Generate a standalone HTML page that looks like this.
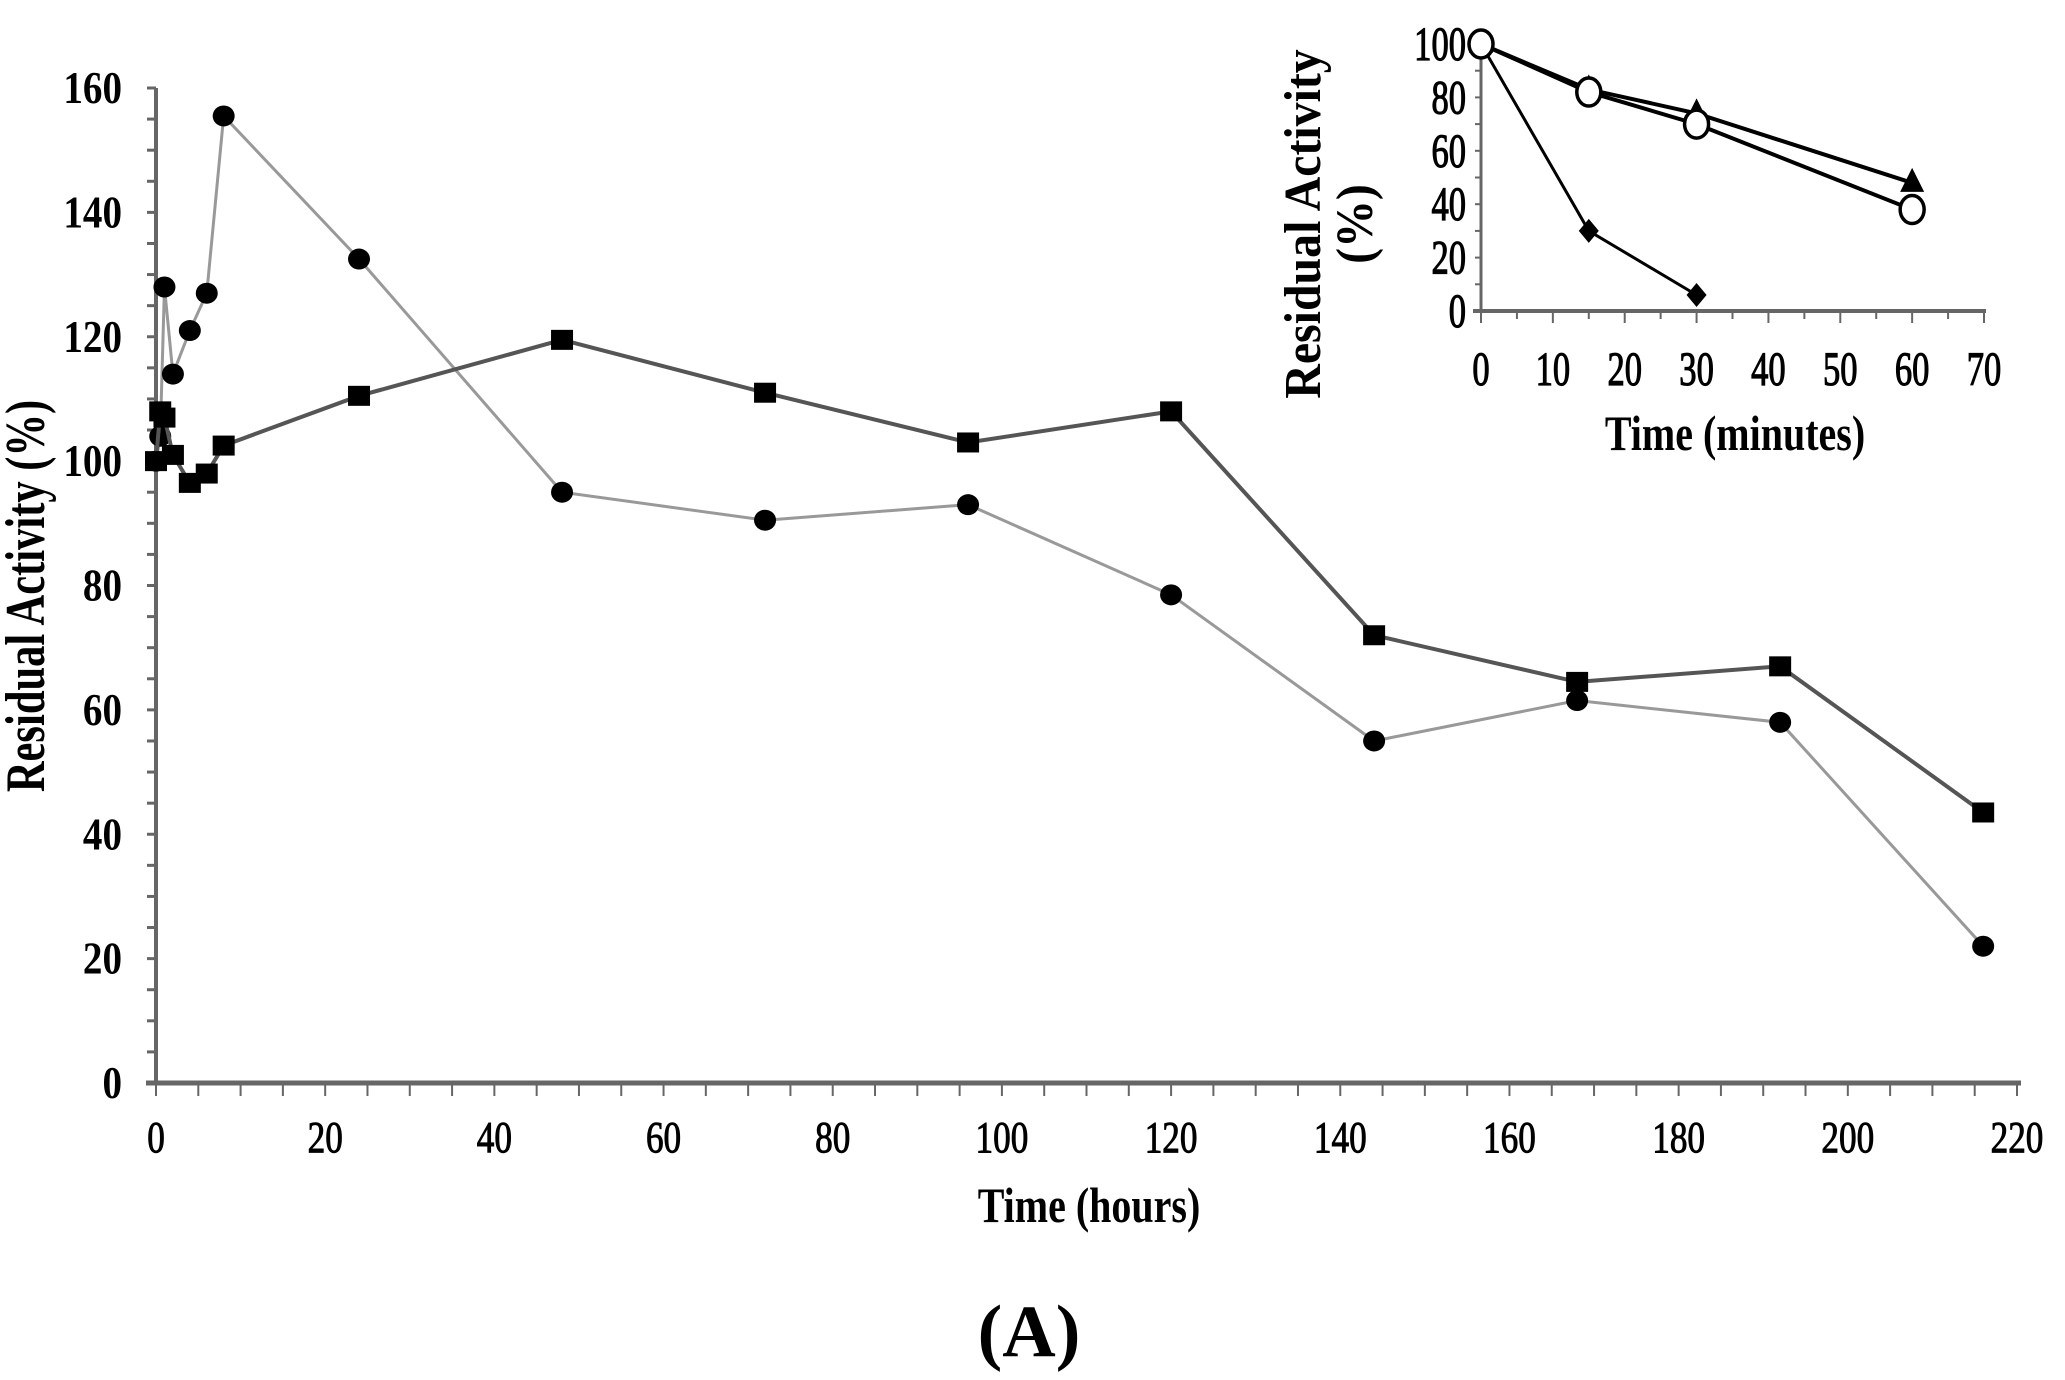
<!DOCTYPE html>
<html><head><meta charset="utf-8"><style>
html,body{margin:0;padding:0;background:#fff;}
svg{display:block;}
text{font-family:"Liberation Serif",serif;fill:#000;}
</style></head><body>
<svg id="chart" width="2065" height="1380" viewBox="0 0 2065 1380" xmlns="http://www.w3.org/2000/svg"></svg>
<script>
// main chart data
const hoursCircle = [0, 0.5, 1, 2, 4, 6, 8, 24, 48, 72, 96, 120, 144, 168, 192, 216];
const activityCircle = [100, 104, 128, 114, 121, 127, 155.5, 132.5, 95, 90.5, 93, 78.5, 55, 61.5, 58, 22];
const hoursSquare = [0, 0.5, 1, 2, 4, 6, 8, 24, 48, 72, 96, 120, 144, 168, 192, 216];
const activitySquare = [100, 108, 107, 101, 96.5, 98, 102.5, 110.5, 119.5, 111, 103, 108, 72, 64.5, 67, 43.5];
const xTicks = [0, 20, 40, 60, 80, 100, 120, 140, 160, 180, 200, 220];
const yTicks = [0, 20, 40, 60, 80, 100, 120, 140, 160];
// inset data
const minTriangle = [0, 15, 30, 60];
const actTriangle = [100, 83, 74, 48];
const minOpen = [0, 15, 30, 60];
const actOpen = [100, 82, 70, 38];
const minDiamond = [0, 15, 30];
const actDiamond = [100, 30, 6];
const insetXTicks = [0, 10, 20, 30, 40, 50, 60, 70];
const insetYTicks = [0, 20, 40, 60, 80, 100];

const svg = document.getElementById('chart');
const NS = 'http://www.w3.org/2000/svg';
function mk(tag, attrs, parent) {
  const e = document.createElementNS(NS, tag);
  for (const k in attrs) e.setAttribute(k, attrs[k]);
  (parent || svg).appendChild(e);
  return e;
}
function txt(str, x, y, size, anchor, sx, bold, parent, rot, stroke) {
  const g = mk('g', {transform: 'translate(' + x + ',' + y + ')' + (rot ? ' rotate(' + rot + ')' : '') + ' scale(' + sx + ',1)'}, parent);
  const t = mk('text', {x: 0, y: 0, 'font-size': size, 'text-anchor': anchor, 'font-weight': bold ? 'bold' : 'normal'}, g);
  if (stroke) { t.setAttribute('stroke', '#000'); t.setAttribute('stroke-width', stroke); }
  t.textContent = str;
  return g;
}

// main axes functions
const X0 = 156, X1 = 2017, Y0 = 1083, Y1 = 88;
const xs = v => X0 + (v / 220) * (X1 - X0);
const ys = v => Y0 - (v / 160) * (Y0 - Y1);

const axes = mk('g', {});


mk('line', {x1: X0, y1: Y1, x2: X0, y2: Y0, stroke: '#666', 'stroke-width': 4}, axes);
mk('line', {x1: X0 - 10, y1: Y0, x2: X1 + 4, y2: Y0, stroke: '#666', 'stroke-width': 5}, axes);
for (let v = 0; v <= 160; v += 5) mk('line', {x1: X0 - 9, y1: ys(v), x2: X0, y2: ys(v), stroke: '#666', 'stroke-width': 3}, axes);
for (let v = 0; v <= 220; v += 5) mk('line', {x1: xs(v), y1: Y0, x2: xs(v), y2: Y0 + 13, stroke: '#666', 'stroke-width': 2}, axes);
yTicks.forEach(v => {
  const g = txt(String(v), 122, ys(v) + 15, 46, 'end', 0.85, true, axes);
  
  
});
xTicks.forEach(v => {
  const g = txt(String(v), xs(v), 1152, 44, 'middle', 0.8, false, axes, 0, 1);
  
  
});
const xt = txt('Time (hours)', 1089, 1222, 50, 'middle', 0.8, true);


const yt = txt('Residual Activity (%)', 44, 596, 56, 'middle', 0.76, true, null, -90);


const pl = txt('(A)', 1029, 1356, 74, 'middle', 1, true);



// series
const sC = mk('g', {});


mk('polyline', {points: hoursCircle.map((h, i) => xs(h) + ',' + ys(activityCircle[i])).join(' '), fill: 'none', stroke: '#999', 'stroke-width': 3}, sC);
const sS = mk('g', {});


mk('polyline', {points: hoursSquare.map((h, i) => xs(h) + ',' + ys(activitySquare[i])).join(' '), fill: 'none', stroke: '#555', 'stroke-width': 4}, sS);
hoursCircle.forEach((h, i) => {
  const c = mk('ellipse', {cx: xs(h), cy: ys(activityCircle[i]), rx: 11, ry: 10.5, fill: '#000'}, sC);
  
  
});
hoursSquare.forEach((h, i) => {
  const r = mk('rect', {x: xs(h) - 11, y: ys(activitySquare[i]) - 10, width: 22, height: 20, fill: '#000'}, sS);
  
  
});

// inset
const IX0 = 1481, IX1 = 1984, IY0 = 311, IY1 = 44;
const ixs = v => IX0 + (v / 70) * (IX1 - IX0);
const iys = v => IY0 - (v / 100) * (IY0 - IY1);
const inset = mk('g', {});


mk('line', {x1: IX0, y1: IY1, x2: IX0, y2: IY0, stroke: '#666', 'stroke-width': 3}, inset);
mk('line', {x1: IX0 - 8, y1: IY0, x2: IX1 + 2, y2: IY0, stroke: '#666', 'stroke-width': 4}, inset);
for (let v = 0; v <= 100; v += 10) mk('line', {x1: IX0 - 6, y1: iys(v), x2: IX0, y2: iys(v), stroke: '#666', 'stroke-width': 2}, inset);
for (let v = 0; v <= 70; v += 5) mk('line', {x1: ixs(v), y1: IY0, x2: ixs(v), y2: IY0 + (v % 10 === 0 ? 12 : 8), stroke: '#666', 'stroke-width': 2}, inset);
insetYTicks.forEach(v => txt(String(v), 1466, iys(v) + 16, 48, 'end', 0.72, false, inset, 0, 1.2));
insetXTicks.forEach(v => txt(String(v), ixs(v), 385, 48, 'middle', 0.72, false, inset, 0, 1.2));
txt('Time (minutes)', 1735, 450, 50, 'middle', 0.8, true, inset);
txt('Residual Activity', 1320, 224, 52, 'middle', 0.92, true, inset, -90);
txt('(%)', 1372, 224, 52, 'middle', 0.92, true, inset, -90);

mk('polyline', {points: minTriangle.map((m, i) => ixs(m) + ',' + iys(actTriangle[i])).join(' '), fill: 'none', stroke: '#000', 'stroke-width': 4}, inset);
mk('polyline', {points: minOpen.map((m, i) => ixs(m) + ',' + iys(actOpen[i])).join(' '), fill: 'none', stroke: '#000', 'stroke-width': 4}, inset);
mk('polyline', {points: minDiamond.map((m, i) => ixs(m) + ',' + iys(actDiamond[i])).join(' '), fill: 'none', stroke: '#000', 'stroke-width': 3}, inset);
minTriangle.forEach((m, i) => {
  const x = ixs(m), y = iys(actTriangle[i]);
  const p = mk('polygon', {points: (x) + ',' + (y - 15) + ' ' + (x - 12) + ',' + (y + 9) + ' ' + (x + 12) + ',' + (y + 9), fill: '#000'}, inset);
  
  
});
minDiamond.forEach((m, i) => {
  const x = ixs(m), y = iys(actDiamond[i]);
  const p = mk('polygon', {points: x + ',' + (y - 12) + ' ' + (x + 10) + ',' + y + ' ' + x + ',' + (y + 12) + ' ' + (x - 10) + ',' + y, fill: '#000'}, inset);
  
  
});
minOpen.forEach((m, i) => {
  const c = mk('ellipse', {cx: ixs(m), cy: iys(actOpen[i]), rx: 12, ry: 14, fill: '#fff', stroke: '#000', 'stroke-width': 3.5}, inset);
  
  
});
</script>
</body></html>
